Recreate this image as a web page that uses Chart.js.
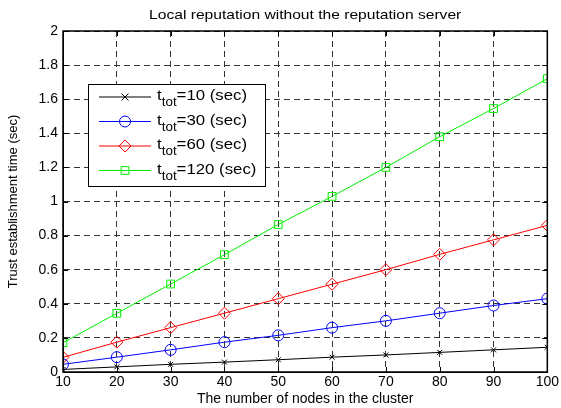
<!DOCTYPE html>
<html>
<head>
<meta charset="utf-8">
<script src="https://cdn.jsdelivr.net/npm/chart.js@4.4.1/dist/chart.umd.min.js"></script>
<style>
  html, body { margin: 0; padding: 0; background: #fff; }
  #wrap { width: 561px; height: 408px; }
</style>
</head>
<body>
<div id="wrap"><canvas id="trustChart" width="561" height="408"></canvas></div>
<script>
// Chart data
const nodeCounts = [10, 20, 30, 40, 50, 60, 70, 80, 90, 100];
const tTotValues = [10, 30, 60, 120];
const time10 = [0.015, 0.03, 0.045, 0.058, 0.072, 0.087, 0.1, 0.115, 0.13, 0.145];
const time30 = [0.045, 0.087, 0.13, 0.175, 0.215, 0.26, 0.3, 0.345, 0.39, 0.43];
const time60 = [0.086, 0.175, 0.26, 0.345, 0.43, 0.515, 0.6, 0.69, 0.775, 0.86];
const time120 = [0.172, 0.344, 0.516, 0.688, 0.865, 1.03, 1.2, 1.38, 1.545, 1.72];
const yTicks = [0, 0.2, 0.4, 0.6, 0.8, 1, 1.2, 1.4, 1.6, 1.8, 2];
const yTickLabels = ['0', '0.2', '0.4', '0.6', '0.8', '1', '1.2', '1.4', '1.6', '1.8', '2'];

const FONT = 'Liberation Sans, Arial, Helvetica, sans-serif';

const seriesStyle = [
    { color: '#000000', point: 'crossRot', radius: 3.5 },
    { color: '#0000ff', point: 'circle', radius: 5.5 },
    { color: '#ff0000', point: 'rectRot', radius: 6 },
    { color: '#00ee00', point: 'rect', radius: 5.5 }
];
const seriesValues = [time10, time30, time60, time120];

function toPoints(values) {
    return nodeCounts.map((n, i) => ({ x: n, y: values[i] }));
}

// Draw one marker (used by the legend)
function drawMarker(ctx, style, x, y) {
    const r = style.radius;
    ctx.beginPath();
    switch (style.point) {
        case 'crossRot':
            ctx.moveTo(x - r, y - r); ctx.lineTo(x + r, y + r);
            ctx.moveTo(x - r, y + r); ctx.lineTo(x + r, y - r);
            break;
        case 'circle':
            ctx.arc(x, y, r, 0, Math.PI * 2);
            break;
        case 'rectRot':
            ctx.moveTo(x, y - r); ctx.lineTo(x + r, y); ctx.lineTo(x, y + r); ctx.lineTo(x - r, y); ctx.closePath();
            break;
        default:
            const s = r * Math.SQRT1_2;
            ctx.rect(x - s, y - s, s * 2, s * 2);
    }
    ctx.stroke();
}

// Title, box, inward ticks and legend like the original figure
const figurePlugin = {
    id: 'figure',
    afterDraw(chart) {
        const ctx = chart.ctx;
        const a = chart.chartArea;
        const xs = chart.scales.x, ys = chart.scales.y;
        ctx.save();
        // box round the axes
        ctx.strokeStyle = '#000';
        ctx.lineWidth = 1.5;
        ctx.strokeRect(a.left, a.top, a.right - a.left, a.bottom - a.top);

        // small tick marks pointing inwards on all four sides
        ctx.lineWidth = 1;
        ctx.beginPath();
        nodeCounts.forEach(v => {
            const px = Math.round(xs.getPixelForValue(v)) + 0.5;
            ctx.moveTo(px, a.bottom); ctx.lineTo(px, a.bottom - 5);
            ctx.moveTo(px, a.top); ctx.lineTo(px, a.top + 5);
        });
        yTicks.forEach(v => {
            const py = Math.round(ys.getPixelForValue(v)) + 0.5;
            ctx.moveTo(a.left, py); ctx.lineTo(a.left + 5, py);
            ctx.moveTo(a.right, py); ctx.lineTo(a.right - 5, py);
        });
        ctx.stroke();

        // title (the original figure is stretched a little in width)
        ctx.fillStyle = '#000';
        ctx.font = '13px ' + FONT;
        ctx.textAlign = 'center';
        ctx.textBaseline = 'middle';
        ctx.save();
        ctx.translate((a.left + a.right) / 2, 15);
        ctx.scale(1.2, 1);
        ctx.fillText('Local reputation without the reputation server', 0, 0);
        ctx.restore();

        // legend
        const lx = 88, ly = 84, lw = 177, lh = 102;
        ctx.fillStyle = '#fff';
        ctx.fillRect(lx, ly, lw, lh);
        ctx.strokeStyle = '#000';
        ctx.lineWidth = 1;
        ctx.strokeRect(lx + 0.5, ly + 0.5, lw, lh);
        const rowsY = [97, 121.5, 146, 170.5];
        tTotValues.forEach((t, i) => {
            const st = seriesStyle[i];
            const y = rowsY[i];
            ctx.strokeStyle = st.color;
            ctx.lineWidth = 1;
            ctx.beginPath();
            ctx.moveTo(99, y); ctx.lineTo(151, y);
            ctx.stroke();
            drawMarker(ctx, st, 125, y);
            ctx.fillStyle = '#000';
            ctx.textAlign = 'left';
            ctx.textBaseline = 'alphabetic';
            ctx.save();
            ctx.translate(157, 0);
            ctx.scale(1.12, 1);
            ctx.font = '15px ' + FONT;
            let x = 0;
            ctx.fillText('t', x, y + 3);
            x += ctx.measureText('t').width;
            ctx.font = '12px ' + FONT;
            ctx.fillText('tot', x, y + 9);
            x += ctx.measureText('tot').width;
            ctx.font = '15px ' + FONT;
            ctx.fillText('=' + t + ' (sec)', x, y + 3);
            ctx.restore();
        });
        ctx.restore();
    }
};

const datasets = seriesValues.map((vals, i) => ({
    label: 't_tot=' + tTotValues[i] + ' (sec)',
    data: toPoints(vals),
    borderColor: seriesStyle[i].color,
    backgroundColor: 'rgba(0,0,0,0)',
    borderWidth: 1,
    pointStyle: seriesStyle[i].point,
    pointRadius: seriesStyle[i].radius,
    pointBorderColor: seriesStyle[i].color,
    pointBackgroundColor: 'rgba(0,0,0,0)',
    pointBorderWidth: 1,
    tension: 0
}));

const gridStyle = {
    color: '#333',
    lineWidth: 1,
    drawTicks: false,
    borderDash: [6, 4],
    tickBorderDash: [6, 4]
};

const ctx = document.getElementById('trustChart').getContext('2d');
const trustChart = new Chart(ctx, {
    type: 'line',
    data: { datasets: datasets },
    options: {
        responsive: false,
        animation: false,
        layout: { padding: { left: 0, right: 13, top: 31, bottom: 0 } },
        plugins: {
            legend: { display: false },
            tooltip: { enabled: false },
            title: { display: false }
        },
        scales: {
            x: {
                type: 'linear',
                min: 10,
                max: 100,
                afterFit(scale) { scale.height = 36; },
                afterBuildTicks(scale) {
                    scale.ticks = nodeCounts.map(v => ({ value: v }));
                },
                ticks: {
                    color: '#000', font: { family: FONT, size: 14 }, padding: 2, maxRotation: 0,
                    callback: v => String(v)
                },
                grid: gridStyle,
                border: { display: true, color: '#000', width: 1, dash: [6, 4] },
                title: {
                    display: true,
                    text: 'The number of nodes in the cluster',
                    color: '#000',
                    font: { family: FONT, size: 14 },
                    padding: { top: 0, bottom: 0 }
                }
            },
            y: {
                min: 0,
                max: 2,
                afterFit(scale) { scale.width = 63; },
                afterBuildTicks(scale) {
                    scale.ticks = yTicks.map(v => ({ value: v }));
                },
                ticks: {
                    color: '#000', font: { family: FONT, size: 14 }, padding: 5,
                    callback: (v, i) => yTickLabels[i]
                },
                grid: gridStyle,
                border: { display: true, color: '#000', width: 1, dash: [6, 4] },
                title: {
                    display: true,
                    text: 'Trust establishment time (sec)',
                    color: '#000',
                    font: { family: FONT, size: 13 },
                    padding: { top: 6, bottom: 0 }
                }
            }
        }
    },
    plugins: [figurePlugin]
});
</script>
</body>
</html>
